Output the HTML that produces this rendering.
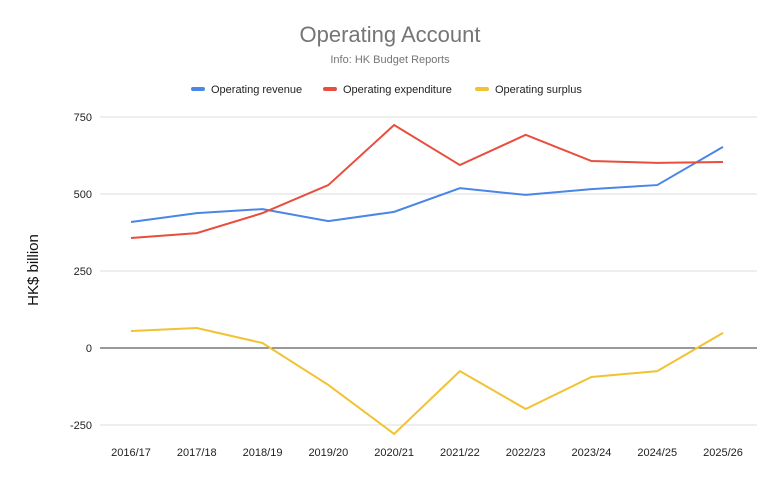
<!DOCTYPE html>
<html><head><meta charset="utf-8"><style>
body{margin:0;background:#fff;font-family:"Liberation Sans",Arial,sans-serif}
svg{display:block}
</style></head><body>
<svg id="c" width="780" height="482">
<text x="390" y="42" text-anchor="middle" font-size="22" fill="#757575">Operating Account</text>
<text x="390" y="63" text-anchor="middle" font-size="11" fill="#757575">Info: HK Budget Reports</text>
<g font-size="11" fill="#222">
<g><rect x="191" y="87" width="14" height="4" rx="2" fill="#4a86e8"/><text x="211" y="93">Operating revenue</text></g>
<g><rect x="323" y="87" width="14" height="4" rx="2" fill="#e84d3d"/><text x="343" y="93">Operating expenditure</text></g>
<g><rect x="475" y="87" width="14" height="4" rx="2" fill="#f1c232"/><text x="495" y="93">Operating surplus</text></g>
</g>
<text transform="translate(38,270) rotate(-90)" text-anchor="middle" font-size="15" fill="#111">HK$ billion</text>
<g id="grid"></g><g id="series"></g><g id="xl"></g>
</svg>
<script>
const categories=["2016/17","2017/18","2018/19","2019/20","2020/21","2021/22","2022/23","2023/24","2024/25","2025/26"];
const revenue=[409,438,451,412,442,519,497,516,529,653];
const expenditure=[357,373,438,529,724,594,692,607,601,604];
const surplus=[55,65,16,-120,-279,-75,-198,-94,-75,49];
const yTicks=[-250,0,250,500,750];
const NS="http://www.w3.org/2000/svg";
const y=v=>348-v*77/250;
const x=i=>131+i*(723-131)/(categories.length-1);
const grid=document.getElementById('grid');
yTicks.forEach(t=>{
 const l=document.createElementNS(NS,'line');
 l.setAttribute('x1',100);l.setAttribute('x2',757);l.setAttribute('y1',y(t));l.setAttribute('y2',y(t));
 l.setAttribute('stroke',t===0?'#333':'#ddd');l.setAttribute('stroke-width','1');
 
 
 grid.appendChild(l);
 const tx=document.createElementNS(NS,'text');
 tx.setAttribute('x',92);tx.setAttribute('y',y(t)+4);tx.setAttribute('text-anchor','end');
 tx.setAttribute('font-size','11');tx.setAttribute('fill','#222');tx.textContent=t;
 
 
 grid.appendChild(tx);
});
const xl=document.getElementById('xl');
categories.forEach((c,i)=>{
 const tx=document.createElementNS(NS,'text');
 tx.setAttribute('x',x(i));tx.setAttribute('y',456);tx.setAttribute('text-anchor','middle');
 tx.setAttribute('font-size','11');tx.setAttribute('fill','#222');tx.textContent=c;
 
 
 xl.appendChild(tx);
});
const sg=document.getElementById('series');
[[revenue,'#4a86e8','revenue-line'],[expenditure,'#e84d3d','expenditure-line'],[surplus,'#f1c232','surplus-line']].forEach(([d,col,n])=>{
 const p=document.createElementNS(NS,'polyline');
 p.setAttribute('points',d.map((v,i)=>x(i)+','+y(v)).join(' '));
 p.setAttribute('fill','none');p.setAttribute('stroke',col);p.setAttribute('stroke-width','2');
 
 
 sg.appendChild(p);
});
</script>
</body></html>
